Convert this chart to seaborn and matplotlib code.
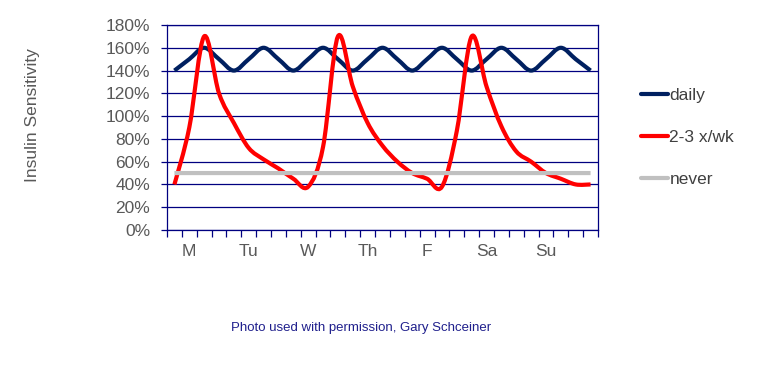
import numpy as np
import pandas as pd
import seaborn as sns
import matplotlib.pyplot as plt
from matplotlib.lines import Line2D
from matplotlib.patches import PathPatch
from matplotlib.path import Path
from matplotlib.ticker import FixedLocator, FuncFormatter

# values, one per quarter-day slot (29 slots)
daily = [140, 150, 160, 150, 140, 150, 160, 150, 140, 150, 160, 150, 140, 150, 160,
         150, 140, 150, 160, 150, 140, 150, 160, 150, 140, 150, 160, 150, 140]
twice_weekly = [40, 90, 170, 120, 94, 72, 62, 54, 45, 38, 73, 170, 126, 94, 74,
                60, 50, 45, 38, 87, 170, 126, 91, 69, 60, 50, 45, 40, 40]
never = [50] * 29
days = ["M", "Tu", "W", "Th", "F", "Sa", "Su"]
series_names = ["daily", "2-3 x/wk", "never"]
colors = ["#002060", "#FF0000", "#C0C0C0"]

slots = np.arange(len(daily))
df = pd.DataFrame({
    "slot": np.tile(slots, 3),
    "value": daily + twice_weekly + never,
    "series": np.repeat(series_names, len(slots)),
})


def smoothed(x, y):
    # Excel-style "smoothed line": cubic bezier segments through the data points
    n = len(x)
    verts = [(x[0], y[0])]
    codes = [Path.MOVETO]
    for i in range(n - 1):
        a = max(i - 1, 0)
        d = min(i + 2, n - 1)
        c1 = (x[i] + (x[i + 1] - x[a]) / 6, y[i] + (y[i + 1] - y[a]) / 6)
        c2 = (x[i + 1] - (x[d] - x[i]) / 6, y[i + 1] - (y[d] - y[i]) / 6)
        verts += [c1, c2, (x[i + 1], y[i + 1])]
        codes += [Path.CURVE4] * 3
    return Path(verts, codes)


sns.set_theme(style="white")
plt.rcParams["font.family"] = ["Liberation Sans", "DejaVu Sans"]

navy = "#000080"
grey_txt = "#595959"

fig = plt.figure(figsize=(7.8, 3.81), dpi=100)
ax = fig.add_axes([167 / 780, 1 - 230 / 381, 431 / 780, 205 / 381])

sns.lineplot(data=df, x="slot", y="value", hue="series", hue_order=series_names,
             palette=colors, linewidth=3, ax=ax, legend=False)

# swap the straight polylines for smoothed curves through the same points
for line in list(ax.lines):
    xs, ys = line.get_xdata(), line.get_ydata()
    ax.add_patch(PathPatch(smoothed(np.asarray(xs, float), np.asarray(ys, float)),
                           fill=False, edgecolor=line.get_color(), linewidth=3,
                           capstyle="butt", joinstyle="round", zorder=3))
    line.remove()

ax.set_xlim(-0.5, len(slots) - 0.5)
ax.set_ylim(0, 180)
ax.set_xlabel("")
ax.set_ylabel("")

# y axis
ax.set_yticks(np.arange(0, 181, 20))
ax.yaxis.set_major_formatter(FuncFormatter(lambda v, p: f"{v:.0f}%"))
ax.grid(axis="y", color=navy, linewidth=0.9)
ax.grid(axis="x", visible=False)
ax.tick_params(axis="y", which="major", direction="out", length=4, width=0.9,
               color=navy, left=True, labelsize=12.5, labelcolor=grey_txt, pad=8)

# x axis: day labels every 4 slots, small ticks between slots
ax.xaxis.set_major_locator(FixedLocator([1 + 4 * i for i in range(len(days))]))
ax.set_xticklabels(days)
ax.xaxis.set_minor_locator(FixedLocator(np.arange(-0.5, len(slots), 1.0)))
ax.tick_params(axis="x", which="major", length=0, labelsize=12.5,
               labelcolor=grey_txt, pad=10)
ax.tick_params(axis="x", which="minor", direction="out", length=5, width=0.9,
               color=navy, bottom=True)

for side in ["left", "bottom", "right", "top"]:
    ax.spines[side].set_color(navy)
    ax.spines[side].set_linewidth(0.9)

handles = [Line2D([], [], color=c, linewidth=3) for c in colors]
fig.legend(handles, series_names, loc="upper left", bbox_to_anchor=(632 / 780, 1 - 79 / 381),
           frameon=False, fontsize=12.5, handlelength=1.6, handletextpad=0.05,
           labelspacing=1.55, borderpad=0, labelcolor="#404040")

fig.text(33 / 780, 1 - 115 / 381, "Insulin Sensitivity", rotation=90,
         ha="center", va="center", fontsize=12.5, color=grey_txt)
fig.text(361 / 780, 1 - 328 / 381, "Photo used with permission, Gary Schceiner",
         ha="center", va="center", fontsize=9.5, color="#1F1F8C")

fig.savefig("out.png", dpi=100, facecolor="white")
